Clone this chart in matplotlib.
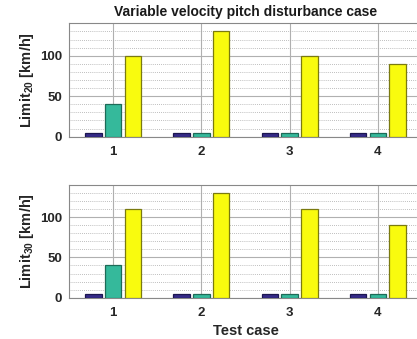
import numpy as np
import matplotlib
matplotlib.use("Agg")
import matplotlib.pyplot as plt
from matplotlib.ticker import MultipleLocator

plt.rcParams['font.family'] = 'Liberation Sans'
plt.rcParams['font.weight'] = 'bold'
plt.rcParams['mathtext.fontset'] = 'custom'
plt.rcParams['mathtext.bf'] = 'Liberation Sans:bold'
plt.rcParams['mathtext.rm'] = 'Liberation Sans:bold'

# data
cases = [1, 2, 3, 4]
limit20 = [[5, 5, 5, 5],        # series 1 (dark blue)
           [40, 5, 5, 5],       # series 2 (teal)
           [100, 130, 100, 90]] # series 3 (yellow)
limit30 = [[5, 5, 5, 5],
           [40, 5, 5, 5],
           [110, 130, 110, 90]]
ylabels = [r'Limit$_{\mathbf{20}}$ [km/h]', r'Limit$_{\mathbf{30}}$ [km/h]']

colors = ['#352a87', '#35b99b', '#f9fb0e']
edges = ['#1c1650', '#1d6a57', '#7a7a10']
offs = [-0.225, 0, 0.225]
w = 0.185

fig = plt.figure(figsize=(4.17, 3.39), dpi=100)
ax1 = fig.add_axes([0.166, 0.597, 0.8455, 0.334])
ax2 = fig.add_axes([0.166, 0.122, 0.8455, 0.332])

for ax, data, lab in [(ax1, limit20, ylabels[0]), (ax2, limit30, ylabels[1])]:
    x = np.array(cases)
    for k in range(3):
        ax.bar(x + offs[k], data[k], width=w, color=colors[k],
               edgecolor=edges[k], linewidth=0.9, zorder=3)
    ax.set_xlim(0.5, 4.5)
    ax.set_ylim(0, 140)
    ax.set_xticks(cases)
    ax.set_yticks([0, 50, 100])
    ax.yaxis.set_minor_locator(MultipleLocator(10))
    ax.grid(True, which='major', color='#b0b0b0', linewidth=0.8, zorder=0)
    ax.grid(True, which='minor', axis='y', color='#a8a8a8', linestyle=(0, (1, 1.5)),
            linewidth=0.6, zorder=0)
    ax.tick_params(which='both', length=0, labelsize=9.5, colors='#262626')
    ax.tick_params(axis='x', pad=7)
    ax.tick_params(axis='y', pad=5)
    for s in ax.spines.values():
        s.set_color('#888888')
        s.set_linewidth(0.8)
    ax.set_ylabel(lab, fontsize=10.5, fontweight='bold', color='#262626', labelpad=3)

ax1.set_title('Variable velocity pitch disturbance case', fontsize=10,
              fontweight='bold', color='#1a1a1a', pad=5)
ax2.set_xlabel('Test case', fontsize=10.5, fontweight='bold', color='#262626', labelpad=3)

fig.savefig('out.png', dpi=100)
